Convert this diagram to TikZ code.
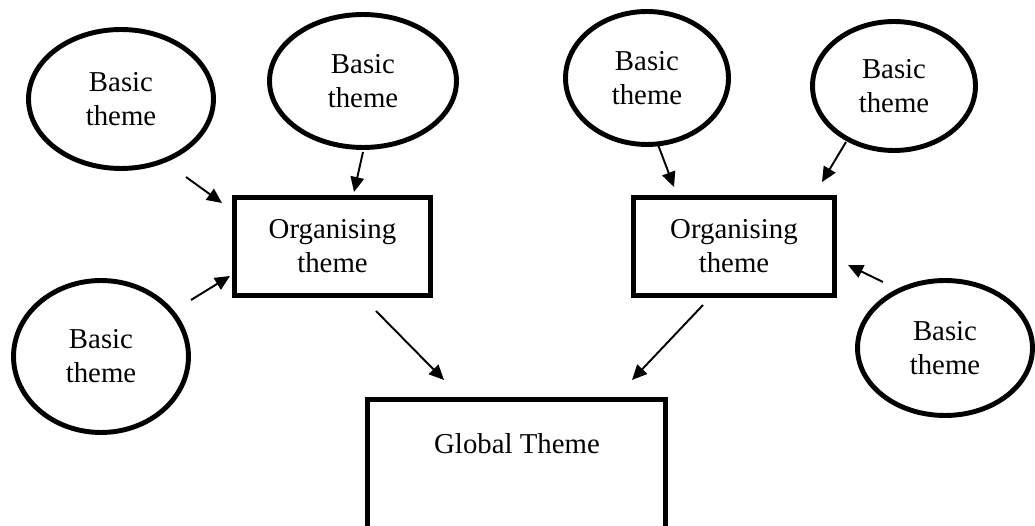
\documentclass[tikz,border=0pt]{standalone}
\usepackage{fontspec}
\setmainfont{Liberation Serif}
\usetikzlibrary{shapes.geometric,arrows.meta}
\tikzset{
  basic/.style={ellipse, draw, line width=2.8pt, inner sep=0pt, align=center,
    font=\fontsize{16.4}{19.4}\selectfont},
  orgbox/.style={rectangle, draw, line width=2.8pt, inner sep=0pt, align=center,
    minimum height=1.96cm, font=\fontsize{16.4}{19.4}\selectfont},
  globbox/.style={rectangle, draw, line width=2.8pt, inner sep=0pt,
    minimum width=5.96cm, minimum height=3.21cm},
  lbl/.style={inner sep=0pt, font=\fontsize{16.4}{19.4}\selectfont},
  arr/.style={line width=1.1pt, -{Triangle[length=0.3cm,width=0.27cm]}}
}
\begin{document}
\begin{tikzpicture}[x=0.02cm,y=-0.02cm]
\useasboundingbox (0,0) rectangle (1035,526);
\begin{scope}
\clip (0,0) rectangle (1035,526);
\node[basic, minimum width=3.7cm, minimum height=2.78cm] (e1) at (121,99) {Basic\\theme};
\node[basic, minimum width=3.74cm, minimum height=2.66cm] (e2) at (363,81) {Basic\\theme};
\node[basic, minimum width=3.5cm, minimum height=3.04cm] (e3) at (101,356.5) {Basic\\theme};
\node[basic, minimum width=3.26cm, minimum height=2.66cm] (e4) at (647,78) {Basic\\theme};
\node[basic, minimum width=3.26cm, minimum height=2.58cm] (e5) at (894,86) {Basic\\theme};
\node[basic, minimum width=3.5cm, minimum height=2.7cm] (e6) at (945,348) {Basic\\theme};

\node[orgbox, minimum width=3.92cm] (orgl) at (332.5,246.5) {Organising\\theme};
\node[orgbox, minimum width=4.02cm] (orgr) at (734,246.5) {Organising\\theme};

\node[globbox] (glob) at (516.5,479.75) {};
\node[lbl] (globtxt) at (517,444) {Global Theme};

\draw[arr] ([shift={(65,78)}]e1.center) -- ([shift={(-110.5,-43.5)}]orgl.center);
\draw[arr] ([shift={(0,71)}]e2.center) -- ([shift={(21.5,-54.5)}]orgl.center);
\draw[arr] ([shift={(90,-56.5)}]e3.center) -- ([shift={(-102.5,29.5)}]orgl.center);
\draw[arr] ([shift={(10,64)}]e4.center) -- ([shift={(-60,-59.5)}]orgr.center);
\draw[arr] ([shift={(-48,56)}]e5.center) -- ([shift={(88,-64.5)}]orgr.center);
\draw[arr] ([shift={(-62,-66)}]e6.center) -- ([shift={(114,18.5)}]orgr.center);
\draw[arr] ([shift={(43.5,64.5)}]orgl.center) -- ([shift={(-72.5,-99.75)}]glob.center);
\draw[arr] ([shift={(-31,58.5)}]orgr.center) -- ([shift={(115.5,-99.75)}]glob.center);
\end{scope}
\end{tikzpicture}
\end{document}
